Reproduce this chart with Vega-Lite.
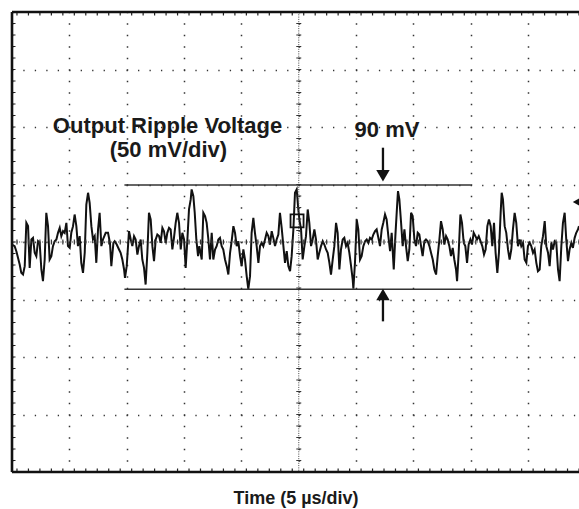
{
  "$schema": "https://vega.github.io/schema/vega-lite/v6.json",
  "width": 567,
  "height": 460,
  "autosize": {"type": "none"},
  "padding": {"left": 12, "top": 12, "right": 0, "bottom": 37},
  "background": "white",
  "config": {
    "view": {"stroke": null},
    "font": "Liberation Sans",
    "axis": {"labels": false, "ticks": false, "domain": false, "grid": true, "gridColor": "#333", "gridWidth": 1.5, "gridOpacity": 1},
    "axisX": {"gridDash": [1.3, 10.2], "gridDashOffset": 0.65},
    "axisY": {"gridDash": [1.3, 10.17], "gridDashOffset": 0.65}
  },
  "datasets": {
    "trace": [
      {"t":0,"v":-2.2},{"t":0.23,"v":-3.6},{"t":0.38,"v":-8},{"t":0.67,"v":-19.6},{"t":0.81,"v":-26.8},{"t":0.96,"v":-28.3},{"t":1.11,"v":-21},{"t":1.25,"v":16.7},{"t":1.4,"v":13.8},{"t":1.54,"v":-22.5},{"t":1.69,"v":2.2},{"t":1.83,"v":3.6},{"t":1.98,"v":-9.4},{"t":2.12,"v":-12.3},{"t":2.27,"v":0.7},{"t":2.41,"v":-0.7},{"t":2.56,"v":-23.9},{"t":2.7,"v":-34},{"t":2.85,"v":-15.2},{"t":2.99,"v":25.4},{"t":3.14,"v":13.8},{"t":3.28,"v":-15.2},{"t":3.43,"v":-12.3},{"t":3.57,"v":-3.6},{"t":3.72,"v":0.7},{"t":3.87,"v":2.2},{"t":4.01,"v":8},{"t":4.16,"v":12.3},{"t":4.3,"v":5.1},{"t":4.45,"v":9.4},{"t":4.59,"v":8},{"t":4.74,"v":16.7},{"t":4.88,"v":-3.6},{"t":5.03,"v":-5.1},{"t":5.17,"v":8},{"t":5.32,"v":13.8},{"t":5.46,"v":23.9},{"t":5.61,"v":13.8},{"t":5.75,"v":-3.6},{"t":5.9,"v":5.1},{"t":6.04,"v":-18.1},{"t":6.19,"v":-26.8},{"t":6.34,"v":-9.4},{"t":6.48,"v":32.6},{"t":6.63,"v":42.8},{"t":6.77,"v":34},{"t":6.92,"v":13.8},{"t":7.06,"v":2.2},{"t":7.21,"v":5.1},{"t":7.35,"v":-18.1},{"t":7.5,"v":10.9},{"t":7.64,"v":25.4},{"t":7.79,"v":-3.6},{"t":7.93,"v":2.2},
      {"t":8.17,"v":8},{"t":8.37,"v":8},{"t":8.54,"v":-0.7},{"t":8.66,"v":-21},{"t":8.84,"v":-0.7},{"t":8.95,"v":0.7},{"t":9.13,"v":-2.2},{"t":9.33,"v":-6.5},{"t":9.47,"v":-9.4},{"t":9.62,"v":-15.2},{"t":9.77,"v":-23.9},{"t":9.85,"v":-31.2},{"t":10,"v":-21},{"t":10.2,"v":9.4},{"t":10.35,"v":2.2},{"t":10.49,"v":-3.6},{"t":10.64,"v":5.1},{"t":10.78,"v":2.2},{"t":10.93,"v":-10.9},{"t":11.07,"v":-3.6},{"t":11.22,"v":2.2},{"t":11.36,"v":-15.2},{"t":11.51,"v":-22.5},{"t":11.65,"v":-37},{"t":11.8,"v":-9.4},{"t":11.94,"v":25.4},{"t":12.09,"v":19.6},{"t":12.24,"v":-3.6},{"t":12.38,"v":-16.7},{"t":12.53,"v":2.2},{"t":12.67,"v":6.5},{"t":12.82,"v":5.1},{"t":12.96,"v":-0.7},{"t":13.11,"v":12.3},{"t":13.25,"v":9.4},{"t":13.4,"v":-0.7},{"t":13.54,"v":8},{"t":13.69,"v":12.3},{"t":13.83,"v":10.9},{"t":13.98,"v":-6.5},{"t":14.12,"v":3.6},{"t":14.27,"v":16.7},{"t":14.41,"v":25.4},{"t":14.56,"v":16.7},{"t":14.71,"v":-6.5},{"t":14.85,"v":8},{"t":15,"v":2.2},{"t":15.14,"v":-22.5},{"t":15.29,"v":2.2},{"t":15.43,"v":28.3},{"t":15.58,"v":37},{"t":15.66,"v":45.7},{"t":15.81,"v":39.9},{"t":15.93,"v":25.4},{"t":16.07,"v":2.2},{"t":16.22,"v":-12.3},{"t":16.33,"v":-3.6},
      {"t":16.54,"v":-15.2},{"t":16.68,"v":25.4},{"t":16.83,"v":22.5},{"t":16.97,"v":16.7},{"t":17.12,"v":2.2},{"t":17.26,"v":-15.2},{"t":17.41,"v":8},{"t":17.55,"v":-15.2},{"t":17.7,"v":-6.5},{"t":17.84,"v":-3.6},{"t":17.99,"v":2.2},{"t":18.13,"v":3.6},{"t":18.28,"v":-3.6},{"t":18.42,"v":-6.5},{"t":18.57,"v":-15.2},{"t":18.72,"v":-21},{"t":18.86,"v":-28.3},{"t":19.01,"v":-9.4},{"t":19.15,"v":0.7},{"t":19.3,"v":13.8},{"t":19.44,"v":8},{"t":19.59,"v":-3.6},{"t":19.73,"v":0.7},{"t":19.88,"v":-12.3},{"t":20.02,"v":-21},{"t":20.17,"v":-6.5},{"t":20.31,"v":-15.2},{"t":20.46,"v":-29.7},{"t":20.6,"v":-41},{"t":20.75,"v":-29.7},{"t":20.89,"v":8},{"t":21.04,"v":21},{"t":21.18,"v":8},{"t":21.33,"v":-3.6},{"t":21.48,"v":-18.1},{"t":21.62,"v":-3.6},{"t":21.77,"v":-0.7},{"t":21.91,"v":-3.6},{"t":22.06,"v":2.2},{"t":22.2,"v":8},{"t":22.35,"v":5.1},{"t":22.49,"v":-2.2},{"t":22.64,"v":9.4},{"t":22.78,"v":3.6},{"t":22.93,"v":-3.6},{"t":23.07,"v":2.2},{"t":23.22,"v":6.5},{"t":23.36,"v":25.4},{"t":23.51,"v":12.3},{"t":23.66,"v":-3.6},{"t":23.8,"v":-18.1},{"t":23.95,"v":-8},{"t":24.09,"v":-21},{"t":24.24,"v":-25.4},{"t":24.38,"v":-12.3},{"t":24.53,"v":10.9},{"t":24.67,"v":42.8},{"t":24.82,"v":45.7},{"t":24.96,"v":28.3},
      {"t":25.05,"v":19.6},{"t":25.2,"v":10.9},{"t":25.34,"v":-15.2},{"t":25.49,"v":-3.6},{"t":25.63,"v":5.1},{"t":25.78,"v":28.3},{"t":25.92,"v":16.7},{"t":26.07,"v":-3.6},{"t":26.21,"v":2.2},{"t":26.36,"v":10.9},{"t":26.5,"v":2.2},{"t":26.65,"v":-15.2},{"t":26.79,"v":-9.4},{"t":26.94,"v":-3.6},{"t":27.09,"v":0.7},{"t":27.23,"v":-2.2},{"t":27.38,"v":-6.5},{"t":27.52,"v":-9.4},{"t":27.67,"v":-18.1},{"t":27.81,"v":-28.3},{"t":27.96,"v":-15.2},{"t":28.1,"v":-3.6},{"t":28.25,"v":16.7},{"t":28.39,"v":8},{"t":28.54,"v":-23.9},{"t":28.68,"v":-6.5},{"t":28.83,"v":2.2},{"t":28.97,"v":3.6},{"t":29.12,"v":-3.6},{"t":29.26,"v":-0.7},{"t":29.41,"v":-9.4},{"t":29.56,"v":-21},{"t":29.7,"v":-32.6},{"t":29.76,"v":-40.5},{"t":29.9,"v":-18.1},{"t":30.05,"v":19.6},{"t":30.19,"v":10.9},{"t":30.34,"v":-15.2},{"t":30.48,"v":-12.3},{"t":30.63,"v":-3.6},{"t":30.78,"v":0.7},{"t":30.92,"v":2.2},{"t":31.07,"v":-0.7},{"t":31.21,"v":3.6},{"t":31.36,"v":2.2},{"t":31.5,"v":6.5},{"t":31.65,"v":9.4},{"t":31.79,"v":10.9},{"t":31.94,"v":3.6},{"t":32.08,"v":-3.6},{"t":32.23,"v":10.9},{"t":32.37,"v":16.7},{"t":32.52,"v":23.9},{"t":32.66,"v":19.6},{"t":32.81,"v":5.1},{"t":32.96,"v":-8},{"t":33.1,"v":8},
      {"t":33.28,"v":-23.9},{"t":33.42,"v":5.1},{"t":33.57,"v":31.2},{"t":33.65,"v":44.2},{"t":33.77,"v":37},{"t":33.92,"v":16.7},{"t":34.06,"v":-3.6},{"t":34.21,"v":10.9},{"t":34.35,"v":-3.6},{"t":34.5,"v":-16.7},{"t":34.64,"v":-6.5},{"t":34.79,"v":25.4},{"t":34.93,"v":22.5},{"t":35.08,"v":2.2},{"t":35.22,"v":-3.6},{"t":35.37,"v":8},{"t":35.51,"v":6.5},{"t":35.66,"v":-3.6},{"t":35.8,"v":-12.3},{"t":35.95,"v":0.7},{"t":36.09,"v":2.2},{"t":36.24,"v":0.7},{"t":36.39,"v":-3.6},{"t":36.53,"v":-9.4},{"t":36.68,"v":-15.2},{"t":36.82,"v":-23.9},{"t":36.97,"v":-28.3},{"t":37.11,"v":-12.3},{"t":37.26,"v":2.2},{"t":37.4,"v":18.1},{"t":37.55,"v":10.9},{"t":37.69,"v":-2.2},{"t":37.84,"v":5.1},{"t":37.98,"v":2.2},{"t":38.13,"v":-3.6},{"t":38.27,"v":-12.3},{"t":38.42,"v":-5.1},{"t":38.56,"v":-15.2},{"t":38.71,"v":-23.9},{"t":38.8,"v":-34},{"t":38.94,"v":-9.4},{"t":39.09,"v":23.9},{"t":39.23,"v":16.7},{"t":39.38,"v":-0.7},{"t":39.52,"v":-3.6},{"t":39.67,"v":-18.1},{"t":39.81,"v":-2.2},{"t":39.96,"v":2.2},{"t":40.1,"v":-2.2},{"t":40.25,"v":8},{"t":40.4,"v":5.1},{"t":40.54,"v":2.2},{"t":40.69,"v":5.1},
      {"t":41,"v":-3.6},{"t":41.15,"v":-10.9},{"t":41.29,"v":-6.5},{"t":41.44,"v":13.8},{"t":41.58,"v":19.6},{"t":41.73,"v":13.8},{"t":41.87,"v":-3.6},{"t":42.02,"v":16.7},{"t":42.16,"v":-9.4},{"t":42.31,"v":-26.8},{"t":42.45,"v":-9.4},{"t":42.6,"v":25.4},{"t":42.69,"v":42.8},{"t":42.8,"v":37},{"t":42.95,"v":13.8},{"t":43.09,"v":8},{"t":43.24,"v":-6.5},{"t":43.38,"v":-15.2},{"t":43.53,"v":-6.5},{"t":43.67,"v":10.9},{"t":43.82,"v":25.4},{"t":43.96,"v":16.7},{"t":44.11,"v":-3.6},{"t":44.26,"v":2.2},{"t":44.4,"v":-3.6},{"t":44.55,"v":-0.7},{"t":44.69,"v":-15.2},{"t":44.84,"v":-18.1},{"t":44.98,"v":-3.6},{"t":45.13,"v":-0.7},{"t":45.27,"v":-3.6},{"t":45.42,"v":-9.4},{"t":45.56,"v":-6.5},{"t":45.71,"v":-18.1},{"t":45.85,"v":-25.4},{"t":46,"v":-23.9},{"t":46.14,"v":-3.6},{"t":46.29,"v":5.1},{"t":46.44,"v":18.1},{"t":46.58,"v":-3.6},{"t":46.73,"v":-9.4},{"t":46.87,"v":-21},{"t":47.02,"v":-0.7},{"t":47.16,"v":-6.5},{"t":47.31,"v":0.7},{"t":47.45,"v":-0.7},{"t":47.6,"v":-23.9},{"t":47.74,"v":-34},{"t":47.89,"v":-3.6},{"t":48.03,"v":16.7},{"t":48.18,"v":25.4},{"t":48.32,"v":2.2},{"t":48.47,"v":-16.7},{"t":48.61,"v":-6.5},{"t":48.76,"v":-0.7},{"t":48.9,"v":-5.1},{"t":49.05,"v":3.6},{"t":49.19,"v":8},{"t":49.34,"v":10.9},{"t":49.43,"v":13.8}
    ],
    "limits": [
      {"t": 9.8, "t1": 40, "v": 49.5},
      {"t": 9.8, "t1": 40, "v": -41}
    ],
    "shafts": [
      {"t": 32.34, "v": 82, "v2": 62},
      {"t": 32.34, "v": -50, "v2": -69}
    ],
    "heads": [
      {"t": 32.34, "v": 57.6, "shape": "triangle-down"},
      {"t": 32.34, "v": -45.7, "shape": "triangle-up"}
    ],
    "labels": [
      {"label": "Output Ripple Voltage", "t": 13.56, "v": 95},
      {"label": "(50 mV/div)", "t": 13.64, "v": 74.3},
      {"label": "90 mV", "t": 32.69, "v": 91.3}
    ],
    "refmark": [
      {"t": 49.33, "v": 34.8}
    ],
    "trigmark": [
      {"t": 24.85, "v": 18.3}
    ]
  },
  "layer": [
    {
      "data": {"name": "trace"},
      "mark": {"type": "line", "stroke": "#111", "strokeWidth": 2, "clip": true},
      "encoding": {
        "x": {"field": "t", "type": "quantitative", "scale": {"domain": [0, 49.43], "nice": false, "zero": false},
              "axis": {"values": [0, 5, 10, 15, 20, 25, 30, 35, 40, 45], "title": "Time (5 µs/div)", "titleFontSize": 18, "titleFontWeight": "bold", "titleColor": "#1a1a1a", "titleFont": "Liberation Sans", "titleBaseline": "alphabetic", "titleY": 31}},
        "y": {"field": "v", "type": "quantitative", "scale": {"domain": [-200, 200], "nice": false, "zero": false},
              "axis": {"values": [-150, -100, -50, 0, 50, 100, 150], "title": null}}
      }
    },
    {
      "data": {"values": [{}]},
      "mark": {"type": "rule", "stroke": "#444", "strokeWidth": 1, "strokeDash": [1, 1.3]},
      "encoding": {"x": {"datum": 25, "type": "quantitative"}}
    },
    {
      "data": {"values": [{}]},
      "mark": {"type": "rule", "stroke": "#444", "strokeWidth": 1, "strokeDash": [1, 1.3]},
      "encoding": {"y": {"datum": 0, "type": "quantitative"}}
    },
    {
      "data": {"values": [{}]},
      "mark": {"type": "rule", "stroke": "#333", "strokeWidth": 5, "strokeDash": [1.2, 10.3], "strokeDashOffset": 0.6},
      "encoding": {"x": {"datum": 25, "type": "quantitative"}}
    },
    {
      "data": {"values": [{}]},
      "mark": {"type": "rule", "stroke": "#333", "strokeWidth": 5, "strokeDash": [1.2, 10.27], "strokeDashOffset": 0.6},
      "encoding": {"y": {"datum": 0, "type": "quantitative"}}
    },
    {
      "data": {"values": [{}]},
      "mark": {"type": "rule", "stroke": "#222", "strokeWidth": 7, "strokeDash": [1.2, 10.3], "strokeDashOffset": 0.6, "clip": true},
      "encoding": {"x": {"datum": 0, "type": "quantitative"}}
    },
    {
      "data": {"values": [{}]},
      "mark": {"type": "rule", "stroke": "#222", "strokeWidth": 7, "strokeDash": [1.2, 10.27], "strokeDashOffset": 0.6, "clip": true},
      "encoding": {"y": {"datum": 200, "type": "quantitative"}}
    },
    {
      "data": {"values": [{}]},
      "mark": {"type": "rule", "stroke": "#222", "strokeWidth": 7, "strokeDash": [1.2, 10.27], "strokeDashOffset": 0.6, "clip": true},
      "encoding": {"y": {"datum": -200, "type": "quantitative"}}
    },
    {
      "data": {"values": [{}]},
      "mark": {"type": "rule", "stroke": "#111", "strokeWidth": 2.6},
      "encoding": {"x": {"datum": 0, "type": "quantitative"}}
    },
    {
      "data": {"values": [{}]},
      "mark": {"type": "rule", "stroke": "#111", "strokeWidth": 2.6},
      "encoding": {"y": {"datum": 200, "type": "quantitative"}}
    },
    {
      "data": {"values": [{}]},
      "mark": {"type": "rule", "stroke": "#111", "strokeWidth": 2.6},
      "encoding": {"y": {"datum": -200, "type": "quantitative"}}
    },
    {
      "data": {"name": "limits"},
      "mark": {"type": "rule", "stroke": "#333", "strokeWidth": 1.5},
      "encoding": {
        "x": {"field": "t", "type": "quantitative"},
        "x2": {"field": "t1"},
        "y": {"field": "v", "type": "quantitative"}
      }
    },
    {
      "data": {"name": "shafts"},
      "mark": {"type": "rule", "stroke": "#111", "strokeWidth": 2.3},
      "encoding": {
        "x": {"field": "t", "type": "quantitative"},
        "y": {"field": "v", "type": "quantitative"},
        "y2": {"field": "v2"}
      }
    },
    {
      "data": {"name": "heads"},
      "mark": {"type": "point", "filled": true, "color": "#111", "opacity": 1, "size": 180},
      "encoding": {
        "x": {"field": "t", "type": "quantitative"},
        "y": {"field": "v", "type": "quantitative"},
        "shape": {"field": "shape", "type": "nominal", "scale": null, "legend": null}
      }
    },
    {
      "data": {"name": "refmark"},
      "mark": {"type": "point", "filled": true, "color": "#111", "opacity": 1, "size": 137, "shape": "triangle-left"},
      "encoding": {
        "x": {"field": "t", "type": "quantitative"},
        "y": {"field": "v", "type": "quantitative"}
      }
    },
    {
      "data": {"name": "trigmark"},
      "mark": {"type": "point", "filled": false, "color": "#111", "opacity": 1, "size": 170, "shape": "square", "strokeWidth": 1.8},
      "encoding": {
        "x": {"field": "t", "type": "quantitative"},
        "y": {"field": "v", "type": "quantitative"}
      }
    },
    {
      "data": {"name": "labels"},
      "mark": {"type": "text", "font": "Liberation Sans", "fontSize": 22, "fontWeight": "bold", "align": "center", "baseline": "alphabetic", "color": "#1a1a1a"},
      "encoding": {
        "x": {"field": "t", "type": "quantitative"},
        "y": {"field": "v", "type": "quantitative"},
        "text": {"field": "label"}
      }
    }
  ]
}
